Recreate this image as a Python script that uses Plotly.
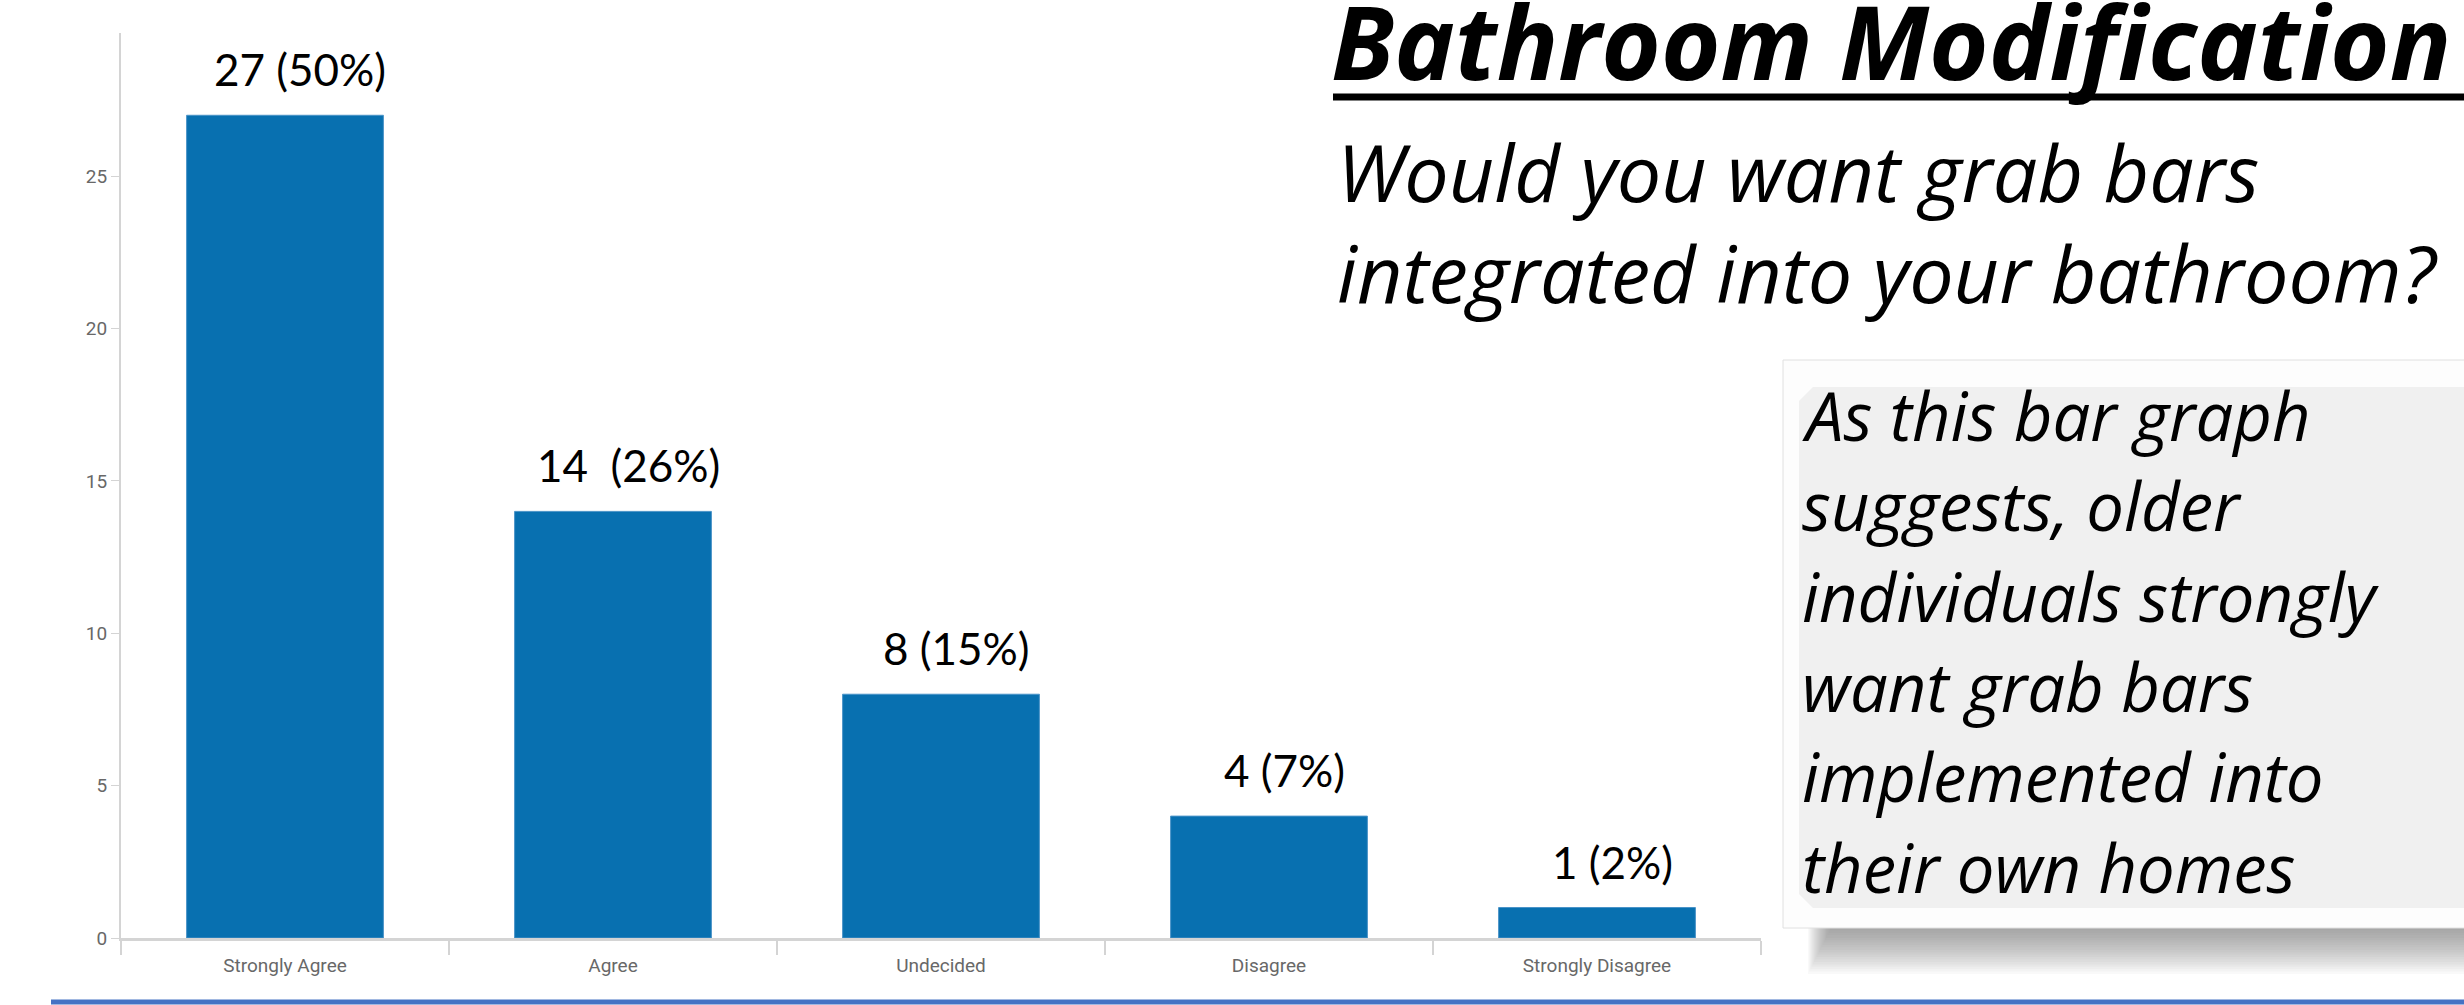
import plotly.graph_objects as go

categories = ["Strongly Agree", "Agree", "Undecided", "Disagree", "Strongly Disagree"]
counts = [27, 14, 8, 4, 1]
bar_labels = ["27 (50%)", "14  (26%)", "8 (15%)", "4 (7%)", "1 (2%)"]
y_ticks = [0, 5, 10, 15, 20, 25]

title_text = "Bathroom Modification"
question_lines = ["Would you want grab bars", "integrated into your bathroom?"]
note_lines = ["As this bar graph", "suggests, older", "individuals strongly",
              "want grab bars", "implemented into", "their own homes"]

W, H = 2464, 1005
L, R, T, B = 121, 703, 33, 67
PW, PH = W - L - R, H - T - B


def px(x):
    return (x - L) / PW


def py(y):
    return (H - B - y) / PH


fig = go.Figure()
fig.add_trace(go.Bar(
    x=categories, y=counts,
    marker=dict(color="#0870B0", line=dict(color="#4a93c8", width=1)),
    width=0.6, hoverinfo="skip",
))

shapes = []
# soft drop shadow under the note box
N = 20
for k in range(N):
    d = 48 * (k + 1) / N
    shapes.append(dict(type="rect", xref="paper", yref="paper",
                       x0=px(1832 - d * 0.5), x1=px(2480), y0=py(915), y1=py(926 + d),
                       fillcolor="#666666", opacity=0.038, line=dict(width=0), layer="below"))
# box frame
shapes.append(dict(type="rect", xref="paper", yref="paper",
                   x0=px(1783), x1=px(2470), y0=py(928), y1=py(360),
                   fillcolor="#fdfdfd", line=dict(color="#e0e0e0", width=1), layer="below"))
# inner bevelled panel
x0p, x1p, y0p, y1p, c = 1799, 2470, 387, 908, 14
path = (f"M {px(x0p + c)},{py(y0p)} L {px(x1p)},{py(y0p)} L {px(x1p)},{py(y1p)} "
        f"L {px(x0p + c)},{py(y1p)} L {px(x0p)},{py(y1p - c)} L {px(x0p)},{py(y0p + c)} Z")
shapes.append(dict(type="path", xref="paper", yref="paper", path=path,
                   fillcolor="#f0f0f0", line=dict(width=0), layer="below"))
# title underline
shapes.append(dict(type="line", xref="paper", yref="paper",
                   x0=px(1333), x1=px(2470), y0=py(97), y1=py(97),
                   line=dict(color="#000000", width=7)))
# bottom blue slide rule
shapes.append(dict(type="line", xref="paper", yref="paper",
                   x0=px(51), x1=px(2470), y0=py(1002), y1=py(1002),
                   line=dict(color="#4472C4", width=5)))

annotations = []
for c_, v, t in zip(categories, counts, bar_labels):
    annotations.append(dict(x=c_, y=v, xref="x", yref="y", text=t, showarrow=False,
                            xanchor="center", yanchor="middle", xshift=15, yshift=46,
                            font=dict(family="Lato", size=44, color="#000000")))

TS = 102
annotations.append(dict(x=px(1329), y=py(80 - 0.39 * TS), xref="paper", yref="paper",
                        text="<b><i>" + title_text + "</i></b>",
                        showarrow=False, xanchor="left", yanchor="middle",
                        font=dict(family="Open Sans", size=TS, color="#000000")))
QS = 79
for i, line in enumerate(question_lines):
    annotations.append(dict(x=px(1335), y=py(202 + i * 101 - 0.39 * QS), xref="paper", yref="paper",
                            text="<i>" + line + "</i>", showarrow=False,
                            xanchor="left", yanchor="middle",
                            font=dict(family="Open Sans", size=QS, color="#000000")))
NS = 67
for i, line in enumerate(note_lines):
    annotations.append(dict(x=px(1800), y=py(441 + i * 90.4 - 0.39 * NS), xref="paper", yref="paper",
                            text="<i>" + line + "</i>", showarrow=False,
                            xanchor="left", yanchor="middle",
                            font=dict(family="Open Sans", size=NS, color="#000000")))

fig.update_layout(
    width=W, height=H,
    margin=dict(l=L, r=R, t=T, b=B, pad=0),
    paper_bgcolor="#ffffff", plot_bgcolor="#ffffff",
    showlegend=False, bargap=0.4,
    shapes=shapes, annotations=annotations,
    xaxis=dict(type="category", showgrid=False, zeroline=False,
               showline=True, linecolor="#d4d4d4", linewidth=3,
               ticks="outside", tickson="boundaries", ticklen=14, tickcolor="#d4d4d4", tickwidth=2,
               ticklabelstandoff=8,
               tickfont=dict(family="Roboto", size=19, color="#686868"),
               range=[-0.5, 4.5], fixedrange=True),
    yaxis=dict(range=[0, 29.7], tickvals=y_ticks, showgrid=False, zeroline=False,
               showline=True, linecolor="#d4d4d4", linewidth=2,
               ticks="outside", ticklen=8, tickcolor="#d4d4d4", tickwidth=1,
               tickfont=dict(family="Roboto", size=19, color="#686868"),
               fixedrange=True),
)

fig.write_html("out.html")
